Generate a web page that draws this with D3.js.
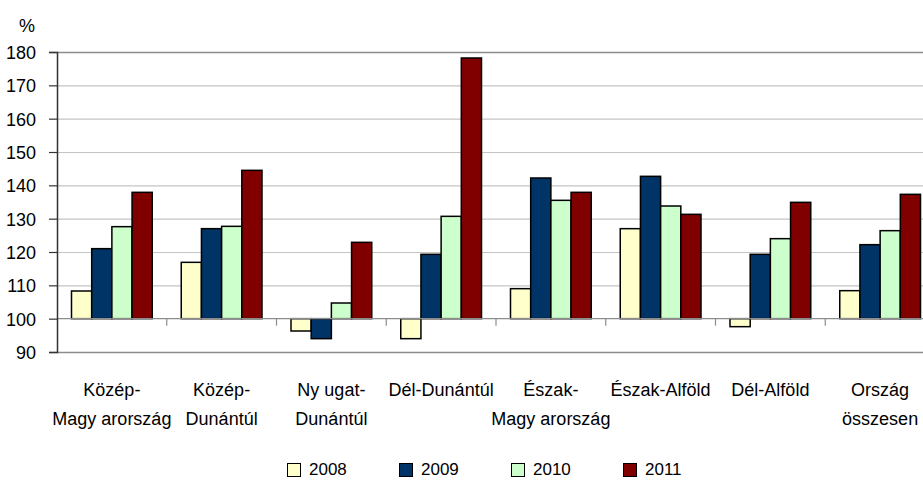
<!DOCTYPE html>
<html>
<head>
<meta charset="utf-8">
<script src="https://cdn.jsdelivr.net/npm/d3@7"></script>
<style>
  body { margin: 0; background: #fff; }
  text { font-family: "Liberation Sans", Arial, sans-serif; fill: #000; }
</style>
</head>
<body>
<script>
// chart data
const categories = [
  ["Közép-", "Magy arország"],
  ["Közép-", "Dunántúl"],
  ["Ny ugat-", "Dunántúl"],
  ["Dél-Dunántúl"],
  ["Észak-", "Magy arország"],
  ["Észak-Alföld"],
  ["Dél-Alföld"],
  ["Ország", "összesen"]
];
const years = ["2008", "2009", "2010", "2011"];
const v2008 = [108.3, 116.9, 96.3, 94.0, 109.0, 127.0, 97.6, 108.4];
const v2009 = [121.0, 127.0, 94.0, 119.3, 142.2, 142.7, 119.3, 122.2];
const v2010 = [127.6, 127.7, 104.7, 130.7, 135.5, 133.8, 124.0, 126.4];
const v2011 = [137.9, 144.5, 122.9, 178.2, 137.9, 131.3, 134.9, 137.3];
const yTicks = [90, 100, 110, 120, 130, 140, 150, 160, 170, 180];
const colors = ["#ffffcc", "#003366", "#ccffcc", "#800000"];

const series = [v2008, v2009, v2010, v2011];

const W = 923, H = 481;
const plotLeft = 57, plotRight = 935, plotTop = 52, plotBottom = 352;

const svg = d3.select("body").append("svg")
  .attr("width", W).attr("height", H);

const x = d3.scaleBand().domain(d3.range(categories.length)).range([plotLeft, plotRight]);
const xs = d3.scaleBand().domain(d3.range(years.length))
  .range([14.5, x.bandwidth() - 14.5]);
const y = d3.scaleLinear().domain([90, 180]).range([plotBottom, plotTop]);

// gridlines
svg.append("g").selectAll("line").data(yTicks.filter(t => t != 100)).enter()
  .append("line")
  .attr("x1", plotLeft).attr("x2", W)
  .attr("y1", d => y(d) + 0.5).attr("y2", d => y(d) + 0.5)
  .attr("stroke", d => (d == 90 || d == 180) ? "#8c8c8c" : "#c4c4c4")
  .attr("stroke-width", d => (d == 90 || d == 180) ? 1.5 : 1.2);

// bars
const groups = svg.append("g").selectAll("g").data(series).enter()
  .append("g")
  .attr("fill", (d, i) => colors[i]);

groups.each(function(vals, si) {
  d3.select(this).selectAll("rect").data(vals).enter().append("rect")
    .attr("x", (d, ci) => x(ci) + xs(si))
    .attr("width", xs.bandwidth())
    .attr("y", d => y(Math.max(d, 100)))
    .attr("height", d => Math.abs(y(d) - y(100)))
    .attr("stroke", "#000")
    .attr("stroke-width", 1.5);
});

// category axis at 100
svg.append("line")
  .attr("x1", plotLeft).attr("x2", W)
  .attr("y1", y(100)).attr("y2", y(100))
  .attr("stroke", "#8c8c8c").attr("stroke-width", 1.2);
svg.append("g").selectAll("line").data(d3.range(1, categories.length)).enter()
  .append("line")
  .attr("x1", d => x(d)).attr("x2", d => x(d))
  .attr("y1", y(100)).attr("y2", y(100) + 7)
  .attr("stroke", "#8c8c8c").attr("stroke-width", 1.2);

// y axis
const yAxis = d3.axisLeft(y).tickValues(yTicks).tickSize(8).tickPadding(13);
const ya = svg.append("g").attr("transform", "translate(" + plotLeft + ",0)").call(yAxis);
ya.select(".domain").attr("stroke", "#333").attr("stroke-width", 1.5);
ya.selectAll(".tick line").attr("stroke", "#333").attr("stroke-width", 1.2);
ya.selectAll(".tick text")
  .style("font-family", "'Liberation Sans', Arial, sans-serif")
  .style("font-size", "18px").attr("fill", "#000").attr("dy", "0.36em");

svg.append("text").attr("x", 27).attr("y", 32)
  .attr("text-anchor", "middle").style("font-size", "18px").text("%");

// category labels
const lbl = svg.append("g").selectAll("text").data(categories).enter()
  .append("text")
  .attr("text-anchor", "middle")
  .style("font-size", "18px");
lbl.each(function(lines, i) {
  d3.select(this).selectAll("tspan").data(lines).enter().append("tspan")
    .attr("x", x(i) + x.bandwidth() / 2)
    .attr("y", (d, k) => 396 + k * 28.5)
    .text(d => d);
});

// legend
const leg = svg.append("g").selectAll("g").data(years).enter()
  .append("g")
  .attr("transform", (d, i) => "translate(" + (287 + i * 112) + ",0)");
leg.append("rect")
  .attr("x", 0.5).attr("y", 463.5).attr("width", 13).attr("height", 13)
  .attr("fill", (d, i) => colors[i]).attr("stroke", "#000").attr("stroke-width", 1);
leg.append("text")
  .attr("x", 22).attr("y", 475)
  .style("font-size", "17px")
  .text(d => d);
</script>
</body>
</html>
